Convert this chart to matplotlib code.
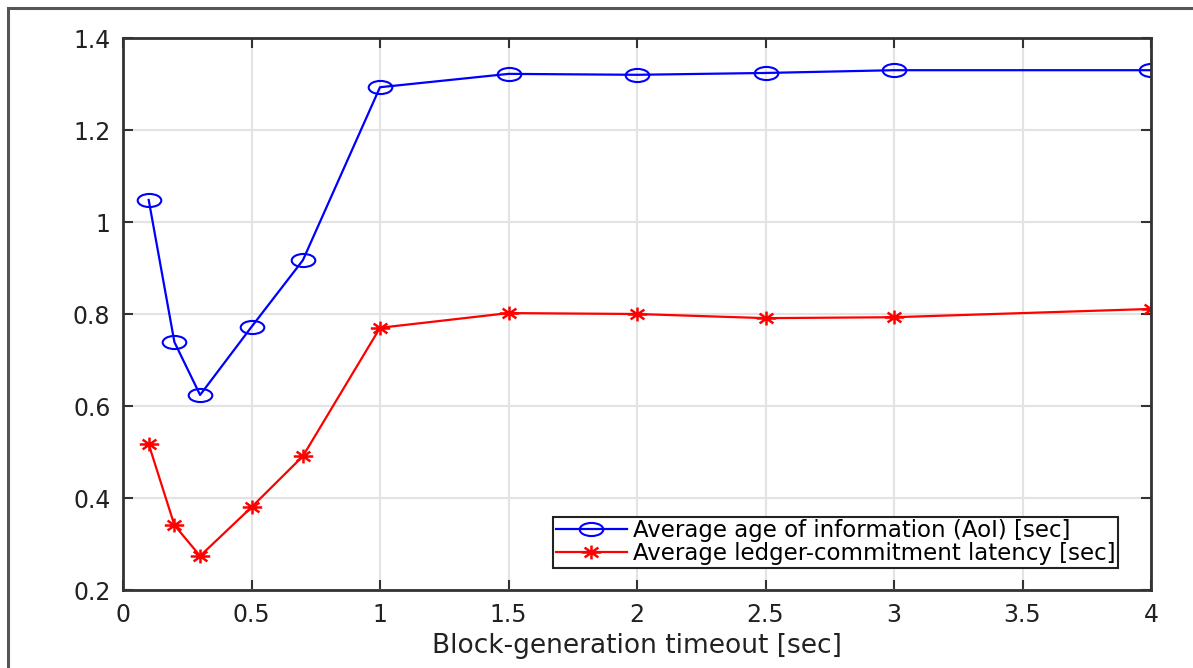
import numpy as np
import matplotlib
matplotlib.use('Agg')
import matplotlib.pyplot as plt
from matplotlib.patches import Rectangle
from matplotlib.path import Path

plt.rcParams['font.family'] = ['DejaVu Sans']

timeout = [0.1, 0.2, 0.3, 0.5, 0.7, 1.0, 1.5, 2.0, 2.5, 3.0, 4.0]
aoi = [1.048, 0.739, 0.624, 0.772, 0.917, 1.293, 1.322, 1.320, 1.324, 1.330, 1.330]
latency = [0.517, 0.341, 0.274, 0.380, 0.491, 0.770, 0.802, 0.800, 0.791, 0.793, 0.811]

xticks = [0, 0.5, 1, 1.5, 2, 2.5, 3, 3.5, 4]
xtick_labels = ['0', '0.5', '1', '1.5', '2', '2.5', '3', '3.5', '4']
yticks = [0.2, 0.4, 0.6, 0.8, 1.0, 1.2, 1.4]
ytick_labels = ['0.2', '0.4', '0.6', '0.8', '1', '1.2', '1.4']

# the original picture is stretched sideways, so markers are too
circ = Path.unit_circle()
ellipse = Path(circ.vertices * [1.8, 1.0], circ.codes)
ang = np.deg2rad([0, 45, 90, 135])
verts, codes = [], []
for a in ang:
    verts += [(-1.4 * np.cos(a), -np.sin(a)), (1.4 * np.cos(a), np.sin(a))]
    codes += [Path.MOVETO, Path.LINETO]
asterisk = Path(verts, codes)

fig = plt.figure(figsize=(11.93, 6.68), dpi=100)
ax = fig.add_axes([123 / 1193, 1 - 590 / 668, (1151 - 123) / 1193, (590 - 38) / 668])

# outer frame of the figure (left and top edges visible)
fig.patches.append(Rectangle((8 / 1193, -0.1), 1.2, 1 - 8 / 668 + 0.1, transform=fig.transFigure,
                             fill=False, edgecolor='#555555', linewidth=2.2))

ax.plot(timeout, aoi, color='#0000ff', marker=ellipse, markersize=17, markerfacecolor='none',
        markeredgewidth=1.5, linewidth=1.6, label='Average age of information (AoI) [sec]')
ax.plot(timeout, latency, color='#ff0000', marker=asterisk, markersize=14,
        markeredgewidth=1.8, linewidth=1.6, label='Average ledger-commitment latency [sec]')

ax.set_xlim(0, 4)
ax.set_ylim(0.2, 1.4)
ax.set_xticks(xticks)
ax.set_xticklabels(xtick_labels)
ax.set_yticks(yticks)
ax.set_yticklabels(ytick_labels)
ax.tick_params(direction='in', length=7, width=1.5, colors='#333333', labelsize=17,
               top=True, right=True, pad=9)
ax.tick_params(axis='both', labelcolor='#222222')
ax.grid(True, color='#e3e3e3', linewidth=1.5)
ax.set_axisbelow(True)
for s in ax.spines.values():
    s.set_linewidth(2)
    s.set_color('#333333')

ax.set_xlabel('Block-generation timeout [sec]', fontsize=19, color='#222222', labelpad=5)

leg = ax.legend(loc='lower right', bbox_to_anchor=(1118 / 1193, 1 - 568 / 668), bbox_transform=fig.transFigure,
                fontsize=16.5, frameon=True, fancybox=False, borderpad=0.12, handlelength=3.1,
                handletextpad=0.25, labelspacing=0.0, borderaxespad=0, framealpha=1)
leg.get_frame().set_edgecolor('#222222')
leg.get_frame().set_linewidth(1.5)

fig.savefig('out.png', dpi=100)
